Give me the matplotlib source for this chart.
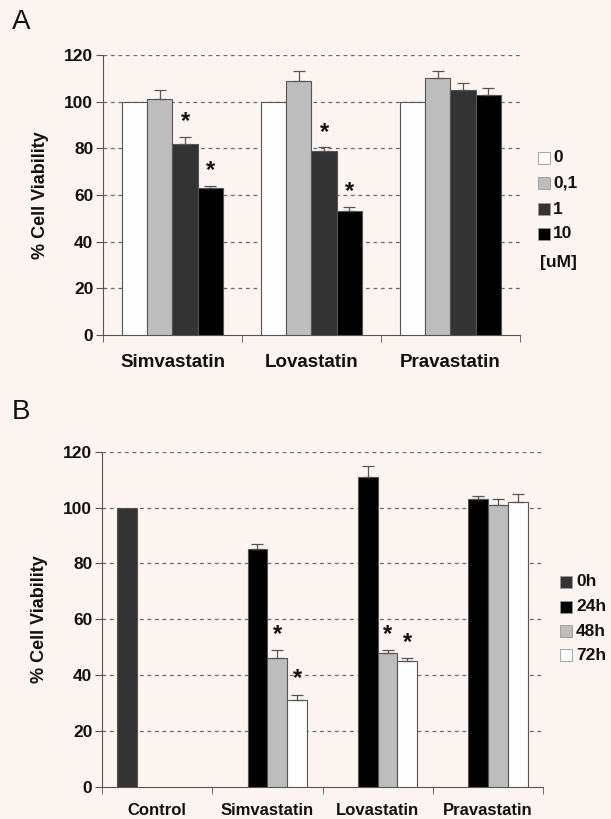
import matplotlib.pyplot as plt
import numpy as np
from matplotlib.patches import Rectangle

plt.rcParams['font.family'] = ['Liberation Sans', 'DejaVu Sans']

# ---- panel A data: concentration series per statin ----
drugs_a = ['Simvastatin', 'Lovastatin', 'Pravastatin']
conc_labels = ['0', '0,1', '1', '10']
viab_a = [
    [100, 100, 100],   # 0 uM
    [101, 109, 110],   # 0,1 uM
    [82, 79, 105],     # 1 uM
    [63, 53, 103],     # 10 uM
]
err_a = [
    [0, 0, 0],
    [4, 4, 3],
    [3, 1.5, 3],
    [1, 2, 3],
]
star_a = [
    [False, False, False],
    [False, False, False],
    [True, True, False],
    [True, True, False],
]

# ---- panel B data: time series per treatment ----
drugs_b = ['Control', 'Simvastatin', 'Lovastatin', 'Pravastatin']
time_labels = ['0h', '24h', '48h', '72h']
viab_b = [
    [100, np.nan, np.nan, np.nan],   # 0h
    [np.nan, 85, 111, 103],          # 24h
    [np.nan, 46, 48, 101],           # 48h
    [np.nan, 31, 45, 102],           # 72h
]
err_b = [
    [0, 0, 0, 0],
    [0, 2, 4, 1],
    [0, 3, 1, 2],
    [0, 2, 1, 3],
]
star_b = [
    [False, False, False, False],
    [False, False, False, False],
    [False, True, True, False],
    [False, True, True, False],
]

colors_a = ['#fdfdfd', '#bdbdbd', '#333333', '#000000']
colors_b = ['#333333', '#000000', '#bdbdbd', '#fdfdfd']
bg = '#fcf4f1'
edge = '#555555'


def draw_panel(ax, cats, values, errs, stars, colors, xlabel_kw):
    n = len(values)
    width = 0.18
    x = np.arange(len(cats))
    for i in range(n):
        pos = x + (i - (n - 1) / 2) * width
        vals = np.array(values[i], dtype=float)
        e = np.array(errs[i], dtype=float)
        ax.bar(pos, vals, width, color=colors[i], edgecolor=edge,
               linewidth=0.8, zorder=3)
        mask = (e > 0) & ~np.isnan(vals)
        if mask.any():
            ax.errorbar(pos[mask], vals[mask],
                        yerr=[np.zeros(mask.sum()), e[mask]],
                        fmt='none', ecolor=edge, elinewidth=0.9,
                        capsize=4.5, capthick=0.9, zorder=4)
        for j, s in enumerate(stars[i]):
            if s:
                ax.text(pos[j], vals[j] + e[j] + 1.5, '*', ha='center',
                        va='bottom', fontsize=17, fontweight='bold',
                        color='#111111', zorder=5)

    ax.set_xlim(-0.5, len(cats) - 0.5)
    ax.set_ylim(0, 120)
    ax.set_yticks(np.arange(0, 121, 20))
    ax.set_facecolor(bg)
    for g in range(20, 121, 20):
        ax.axhline(g, color='#6a6a6a', lw=0.9, ls=(0, (3, 3)), zorder=1)
    ax.spines['top'].set_visible(False)
    ax.spines['right'].set_visible(False)
    ax.spines['left'].set_color('#555555')
    ax.spines['bottom'].set_color('#555555')
    ax.set_xticks(x)
    ax.set_xticklabels(cats, **xlabel_kw)
    ax.tick_params(axis='x', length=0, pad=14)
    ax.set_xticks(np.arange(len(cats) + 1) - 0.5, minor=True)
    ax.tick_params(axis='x', which='minor', length=5, color='#555555',
                   direction='out')
    ax.tick_params(axis='y', length=5, pad=2, color='#555555', labelsize=12.5,
                   labelcolor='#111111')
    for lab in ax.get_yticklabels():
        lab.set_fontweight('bold')
    ax.set_ylabel('% Cell Viability', fontsize=13, fontweight='bold',
                  color='#111111', labelpad=11)


fig = plt.figure(figsize=(6.11, 8.19), dpi=100, facecolor=bg)

ax_a = fig.add_axes([103 / 611, 1 - 335 / 819, (520 - 103) / 611, (335 - 55) / 819])
draw_panel(ax_a, drugs_a, viab_a, err_a, star_a, colors_a,
           dict(fontsize=13.5, fontweight='bold', color='#111111'))

ax_b = fig.add_axes([102 / 611, 1 - 786.7 / 819, (543 - 102) / 611, (786.7 - 451.7) / 819])
draw_panel(ax_b, drugs_b, viab_b, err_b, star_b, colors_b,
           dict(fontsize=12, fontweight='bold', color='#111111'))
ax_b.tick_params(axis='x', pad=12)

# panel letters
fig.text(12 / 611, 1 - 22 / 819, 'A', fontsize=20, va='center', color='#111111')
fig.text(12 / 611, 1 - 412 / 819, 'B', fontsize=20, va='center', color='#111111')


def legend_block(x_sq, x_txt, ys, labels, colors, extra=None):
    for y, lab, c in zip(ys, labels, colors):
        fig.patches.append(Rectangle(((x_sq - 6) / 611, 1 - (y + 6) / 819),
                                     12 / 611, 12 / 819, facecolor=c,
                                     edgecolor='#999999', lw=0.6,
                                     transform=fig.transFigure))
        fig.text(x_txt / 611, 1 - y / 819, lab, fontsize=12.5,
                 fontweight='bold', va='center', color='#111111')
    if extra:
        fig.text(extra[0] / 611, 1 - extra[1] / 819, extra[2], fontsize=12.5,
                 fontweight='bold', va='center', color='#111111')


legend_block(544, 553, [158, 183, 209, 234], conc_labels, colors_a,
             extra=(540, 262, '[uM]'))
legend_block(566, 576, [582, 606.5, 631, 655], time_labels, colors_b)

fig.savefig('out.png', dpi=100, facecolor=bg)
